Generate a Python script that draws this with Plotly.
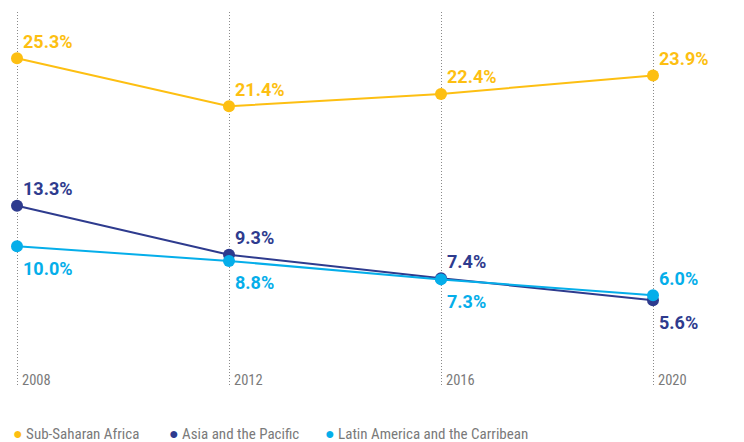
import plotly.graph_objects as go

years = [2008, 2012, 2016, 2020]
series_names = ["Sub-Saharan Africa", "Asia and the Pacific", "Latin America and the Carribean"]
ssa = [25.3, 21.4, 22.4, 23.9]
asia = [13.3, 9.3, 7.4, 5.6]
latam = [10.0, 8.8, 7.3, 6.0]
colors = ["#FDBF12", "#2E3B8E", "#05AEEA"]
# label placement: +1 above, -1 below
label_side = [
    [1, 1, 1, 1],
    [1, 1, 1, -1],
    [-1, -1, -1, 1],
]

font_family = "Liberation Sans Narrow, Roboto Condensed, Roboto, Arial"
W, H = 744, 442
plot_top, plot_bottom = 12, 385
ph = plot_bottom - plot_top


def paper_y(py):
    return (plot_bottom - py) / ph


fig = go.Figure()
data = [ssa, asia, latam]
for name, vals, col in zip(series_names, data, colors):
    fig.add_trace(go.Scatter(
        x=years, y=vals, mode="lines+markers", name=name,
        line=dict(color=col, width=2),
        marker=dict(color=col, size=12),
        showlegend=False,
    ))

ann = []
for vals, col, sides in zip(data, colors, label_side):
    for x, v, s in zip(years, vals, sides):
        ann.append(dict(
            x=x, y=v, xref="x", yref="y", text=f"<b>{v:.1f}%</b>",
            showarrow=False, xanchor="left", yanchor="middle",
            xshift=4, yshift=17 if s > 0 else -22,
            font=dict(family="Roboto, Arial", size=18, color=col),
        ))

for x in years:
    ann.append(dict(
        x=x, y=paper_y(380), xref="x", yref="paper", text=str(x), showarrow=False,
        xanchor="left", yanchor="middle", xshift=3,
        font=dict(family=font_family, size=14.5, color="#7a7a7a"),
    ))

legend_x = [11, 167, 323]
for lx, name, col in zip(legend_x, series_names, colors):
    ann.append(dict(
        x=lx / W, y=paper_y(433), xref="paper", yref="paper",
        text=f"<span style='color:{col}; font-size:16px'>●</span> {name}",
        showarrow=False, xanchor="left", yanchor="middle",
        font=dict(family=font_family, size=15, color="#7a7a7a"),
    ))

fig.update_layout(
    width=W, height=H,
    margin=dict(l=0, r=0, t=plot_top, b=H - plot_bottom),
    paper_bgcolor="white", plot_bgcolor="white",
    annotations=ann,
    xaxis=dict(
        range=[2008 - 17 / 53, 2020 + 91 / 53],
        tickvals=years, showticklabels=False, showgrid=True,
        gridcolor="#8a8a8a", griddash="1px,2px", gridwidth=1,
        zeroline=False, showline=False, ticks="",
    ),
    yaxis=dict(
        range=[-1.3, 29.07], showgrid=False, showticklabels=False,
        zeroline=False, showline=False, ticks="",
    ),
)

fig.write_html("out.html")
